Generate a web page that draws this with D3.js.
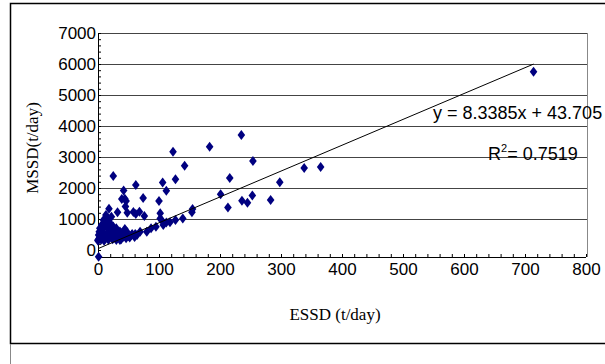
<!DOCTYPE html>
<html>
<head>
<meta charset="utf-8">
<script src="https://cdn.jsdelivr.net/npm/d3@7"></script>
<style>
  body { margin: 0; background: #fff; }
  svg { display: block; }
  .tick text { font-family: "Liberation Sans", Arial, sans-serif; font-size: 17px; fill: #000; }
</style>
</head>
<body>
<svg id="chart" width="605" height="364"></svg>
<script>
// ESSD (t/day) vs MSSD (t/day)
const essd = [1, 235, 183, 123, 254, 142, 25, 216, 127, 106, 112, 42, 62, 201, 74, 39, 44, 46, 100, 253,
  236, 245, 213, 18, 32, 45, 58, 68, 48, 62, 76, 102, 104, 112, 139, 155, 154, 127, 118, 102,
  338, 365, 298, 283, 714, 95, 87, 107, 69, 61, 50, 36, 55, 38, 42, 22, 13, 9, 6, 3,
  2, 1, 0, 8, 80,
  0, 2, 4, 5, 7, 9, 10, 12, 14, 15, 17, 19, 20, 22, 24, 26, 28, 30, 32, 34,
  36, 38, 40, 43, 46, 48, 52, 56, 60, 64, 25, 30, 14, 18, 20, 11, 16, 28, 44, 47];
const mssd = [-220, 3710, 3330, 3170, 2870, 2720, 2390, 2320, 2280, 2180, 1910, 1920, 2100, 1800, 1680, 1645, 1650, 1580, 1580, 1760,
  1590, 1525, 1370, 1330, 1215, 1400, 1225, 1235, 1200, 1160, 1100, 1185, 970, 890, 1015, 1320, 1215, 970, 895, 1020,
  2645, 2680, 2185, 1610, 5750, 750, 700, 805, 590, 515, 450, 320, 485, 540, 430, 1075, 1130, 970, 805, 700,
  590, 485, 320, 680, 590,
  300, 380, 450, 330, 400, 520, 300, 380, 460, 560, 330, 420, 500, 620, 350, 450, 540, 320, 400, 480,
  600, 350, 440, 520, 380, 480, 400, 520, 420, 480, 760, 700, 780, 650, 860, 880, 960, 640, 680, 600];

const xTicks = [0, 100, 200, 300, 400, 500, 600, 700, 800];
const yTicks = [0, 1000, 2000, 3000, 4000, 5000, 6000, 7000];

// linear trend shown on the chart
const slope = 8.3385;
const intercept = 43.705;
const r2 = 0.7519;

const data = essd.map((d, i) => ({ x: d, y: mssd[i] }));

const svg = d3.select('#chart');

// outer chart frame
svg.append('rect')
  .attr('x', 10.5).attr('y', 3.5)
  .attr('width', 700).attr('height', 340)
  .attr('fill', 'none')
  .attr('stroke', '#000')
  .attr('stroke-width', 1.5);
svg.append('line')
  .attr('x1', 10.5).attr('x2', 10.5)
  .attr('y1', 344).attr('y2', 364)
  .attr('stroke', '#888');

const x = d3.scaleLinear().domain([0, 800]).range([98, 586]);
const y = d3.scaleLinear().domain([0, 7000]).range([250, 33]);
const axisY = 257;
const plotRight = 587;

// grid lines
svg.append('g')
  .selectAll('line')
  .data(yTicks.filter(d => d > 0))
  .enter()
  .append('line')
  .attr('x1', x(0)).attr('x2', plotRight)
  .attr('y1', d => Math.round(y(d)) + 0.5)
  .attr('y2', d => Math.round(y(d)) + 0.5)
  .attr('stroke', '#444');

// right border of plot area
svg.append('line')
  .attr('x1', plotRight + 0.5).attr('x2', plotRight + 0.5)
  .attr('y1', y(7000)).attr('y2', axisY)
  .attr('stroke', '#888');

// y axis
svg.append('line')
  .attr('x1', x(0) + 0.5).attr('x2', x(0) + 0.5)
  .attr('y1', y(7000)).attr('y2', axisY)
  .attr('stroke', '#000');

svg.append('g')
  .attr('transform', `translate(${x(0)},0)`)
  .call(d3.axisRight(y).tickValues(d3.range(0, 7001, 200)).tickSize(3).tickFormat(''))
  .call(g => g.select('.domain').remove());

svg.append('g')
  .attr('transform', `translate(${x(0) - 1},0)`)
  .call(d3.axisLeft(y).tickValues(yTicks).tickSize(0).tickPadding(1).tickFormat(d3.format('d')))
  .call(g => g.select('.domain').remove());

// x axis
svg.append('line')
  .attr('x1', x(0)).attr('x2', x(800))
  .attr('y1', axisY + 0.5).attr('y2', axisY + 0.5)
  .attr('stroke', '#000');

svg.append('g')
  .attr('transform', `translate(0,${axisY})`)
  .call(d3.axisTop(x).tickValues(d3.range(0, 801, 20)).tickSize(3).tickFormat(''))
  .call(g => g.select('.domain').remove());

svg.append('g')
  .attr('transform', `translate(0,${axisY})`)
  .call(d3.axisBottom(x).tickValues(xTicks).tickSize(0).tickPadding(6).tickFormat(d3.format('d')))
  .call(g => g.select('.domain').remove());

// axis titles
svg.append('text')
  .attr('transform', 'translate(38,148) rotate(-90)')
  .attr('text-anchor', 'middle')
  .attr('font-family', '"Liberation Serif", "Times New Roman", serif')
  .attr('font-size', 17)
  .text('MSSD(t/day)');

svg.append('text')
  .attr('x', 335).attr('y', 320)
  .attr('text-anchor', 'middle')
  .attr('font-family', '"Liberation Serif", "Times New Roman", serif')
  .attr('font-size', 17)
  .text('ESSD (t/day)');

// points
const diamond = 'M0,-5L3.8,0L0,5L-3.8,0Z';
svg.append('g')
  .selectAll('path')
  .data(data)
  .enter()
  .append('path')
  .attr('d', diamond)
  .attr('transform', d => `translate(${x(d.x)},${y(d.y)})`)
  .attr('fill', '#000080');

// trend line across the data range
const xExt = d3.extent(data, d => d.x);
svg.append('line')
  .attr('x1', x(xExt[0])).attr('y1', y(slope * xExt[0] + intercept))
  .attr('x2', x(xExt[1])).attr('y2', y(slope * xExt[1] + intercept))
  .attr('stroke', '#000')
  .attr('stroke-width', 1);

// equation labels
const sans = '"Liberation Sans", Arial, sans-serif';
svg.append('text')
  .attr('x', 433).attr('y', 119)
  .attr('font-family', sans)
  .attr('font-size', 18)
  .text(`y = ${slope}x + ${intercept}`);

const r2Text = svg.append('text')
  .attr('x', 488).attr('y', 160)
  .attr('font-family', sans)
  .attr('font-size', 18);
r2Text.append('tspan').text('R');
r2Text.append('tspan').attr('font-size', 11).attr('dy', -8).text('2');
r2Text.append('tspan').attr('dy', 8).text(`= ${r2}`);
</script>
</body>
</html>
